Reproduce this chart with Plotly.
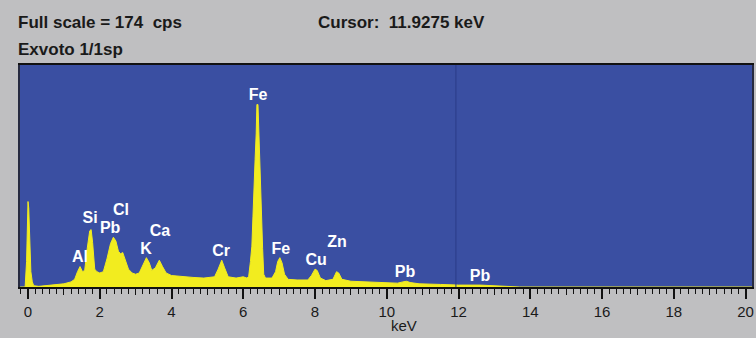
import plotly.graph_objects as go

# ---- data ----
energy_kev = [-0.22, -0.08, -0.04, -0.02, 0.00, 0.02, 0.05, 0.08, 0.12, 0.16, 0.30, 0.50, 0.80,
              1.00, 1.20, 1.30, 1.38, 1.45, 1.52, 1.58, 1.65, 1.72, 1.76, 1.80, 1.86, 1.92,
              2.00, 2.10, 2.20, 2.30, 2.38, 2.45, 2.52, 2.58, 2.64, 2.72, 2.80, 2.90, 3.00,
              3.10, 3.20, 3.30, 3.38, 3.45, 3.55, 3.66, 3.75, 3.85, 4.00, 4.30, 4.60, 4.90,
              5.20, 5.30, 5.40, 5.48, 5.58, 5.80, 6.00, 6.10, 6.15, 6.20, 6.24, 6.27, 6.30,
              6.33, 6.36, 6.38, 6.41, 6.44, 6.47, 6.51, 6.54, 6.57, 6.62, 6.80, 6.90, 6.96,
              7.02, 7.08, 7.15, 7.25, 7.50, 7.80, 7.90, 8.00, 8.06, 8.15, 8.30, 8.50, 8.60,
              8.66, 8.75, 9.00, 9.50, 10.00, 10.30, 10.45, 10.55, 10.65, 10.90, 11.50, 12.00,
              12.60, 13.00, 13.50, 13.70, 20.20]
counts_cps = [0, 0, 20, 60, 67, 62, 30, 12, 4, 1, 0.5, 1, 1.5,
              2.5, 4, 6, 12, 16, 12, 13, 30, 44, 45, 35, 14, 12,
              11, 12, 22, 34, 39, 36, 28, 26, 27, 20, 14, 11, 10,
              11, 17, 23, 19, 13, 15, 21, 16, 11, 9, 8, 7.5, 7,
              8, 14, 21, 15, 8, 7, 8, 7, 8, 20, 32, 55, 72,
              100, 120, 143, 143, 115, 80, 60, 30, 10, 7, 7, 12, 20,
              23, 19, 10, 6, 5.5, 5.5, 9, 14, 13, 7, 5, 6, 12,
              11, 6, 4.5, 4, 3.5, 3, 4, 4.5, 3.5, 2.5, 2, 1.5,
              1.5, 1, 0.5, 0, 0]

peak_labels = ["Fe", "Si", "Pb", "Cl", "Ca", "K", "Al", "Cr", "Fe", "Cu", "Zn", "Pb", "Pb"]
label_kev = [6.41, 1.73, 2.29, 2.59, 3.68, 3.29, 1.45, 5.38, 7.05, 8.03, 8.61, 10.51, 12.60]
label_cps = [149.7, 53.3, 45.5, 59.6, 43.1, 29.0, 22.7, 27.4, 29.0, 20.4, 34.5, 11.0, 7.8]

full_scale_cps = 174
cursor_kev = 11.9275
sample_name = "Exvoto 1/1sp"
major_ticks = [0, 2, 4, 6, 8, 10, 12, 14, 16, 18, 20]
mid_ticks = [1, 3, 5, 7, 9, 11, 13, 15, 17, 19]

BG = "#bfbfc1"
BLUE = "#3a4fa2"
YELLOW = "#f2ec1f"
TXT = "#1a1a1a"

fig = go.Figure()
fig.add_trace(go.Scatter(x=energy_kev, y=counts_cps, mode="lines", fill="tozeroy",
                         line=dict(color=YELLOW, width=1), fillcolor=YELLOW,
                         hoverinfo="skip", showlegend=False))
fig.add_trace(go.Scatter(x=label_kev, y=label_cps, mode="text", text=peak_labels,
                         textfont=dict(family="Liberation Sans", size=16, color="white", weight="bold"),
                         showlegend=False, hoverinfo="skip", cliponaxis=False))
# helper trace for mid-size ticks axis
fig.add_trace(go.Scatter(x=[mid_ticks[0]], y=[0], xaxis="x2", mode="markers",
                         marker=dict(opacity=0), showlegend=False, hoverinfo="skip"))

fig.add_shape(type="line", x0=cursor_kev, x1=cursor_kev, y0=0, y1=1, yref="paper",
              xref="x", line=dict(color="#2b3c88", width=1))

xr = [-0.223, 20.18]
fig.update_layout(
    width=756, height=338,
    margin=dict(l=20, r=4, t=65, b=51, autoexpand=False),
    paper_bgcolor=BG, plot_bgcolor=BLUE,
    font=dict(family="Liberation Sans", color=TXT),
    xaxis=dict(range=xr, tickvals=major_ticks, ticks="outside", ticklen=10, tickwidth=1.5,
               tickcolor="#111", showgrid=False, zeroline=False, automargin=False,
               showline=True, linecolor="#111", linewidth=2, mirror=True,
               tickfont=dict(size=15, color=TXT, family="Liberation Sans"),
               minor=dict(dtick=0.2, tick0=0, ticks="outside", ticklen=5, tickwidth=1.2,
                          tickcolor="#111", showgrid=False)),
    xaxis2=dict(range=xr, overlaying="x", anchor="y", side="bottom", tickvals=mid_ticks,
                ticks="outside", ticklen=7, tickwidth=1.3, tickcolor="#111", automargin=False,
                showticklabels=False, showgrid=False, zeroline=False, showline=False),
    yaxis=dict(range=[0, full_scale_cps], showticklabels=False, ticks="", showgrid=False,
               automargin=False,
               zeroline=False, showline=True, linecolor="#262a40", linewidth=1.5, mirror=True),
)

ann_common = dict(showarrow=False, font=dict(size=17, color=TXT, family="Liberation Sans", weight="bold"))
def px_ann(text, x, y, anchor="left"):
    fig.add_annotation(text=text, x=(x - 20) / 732, y=(287 - y) / 222, xref="paper", yref="paper",
                       xanchor=anchor, yanchor="middle", **ann_common)

px_ann(f"Full scale = {full_scale_cps}  cps", 16, 23)
px_ann(f"Cursor:  {cursor_kev:.4f} keV", 316, 23)
px_ann(sample_name, 16, 49)
fig.add_annotation(text="keV", x=10.48, y=(287 - 325) / 222, xref="x", yref="paper",
                   xanchor="center", yanchor="middle", showarrow=False,
                   font=dict(size=15, color=TXT, family="Liberation Sans"))

fig.write_html("out.html", config={"displayModeBar": False},
               post_script="document.body.style.margin='0';document.body.style.overflow='hidden';")
